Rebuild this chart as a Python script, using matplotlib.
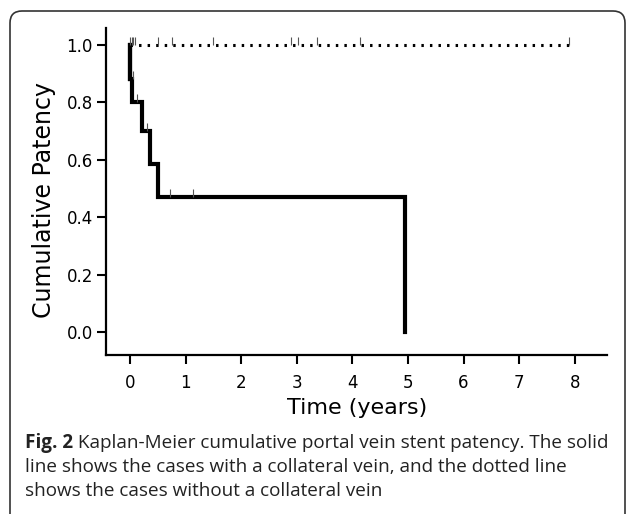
import matplotlib
matplotlib.use("Agg")
import matplotlib.pyplot as plt
from matplotlib.patches import FancyBboxPatch
from matplotlib.transforms import IdentityTransform

# with collateral vein (solid line): drop times and survival after the drop
solid_t = [0.0, 0.03, 0.21, 0.37, 0.51, 4.95]
solid_s = [0.88, 0.80, 0.70, 0.585, 0.47, 0.0]
solid_cens_t = [0.05, 0.12, 0.30, 0.72, 1.14]
solid_cens_s = [0.88, 0.80, 0.70, 0.47, 0.47]

# without collateral vein (dotted line): no events
dotted_end = 7.90
dotted_cens_t = [0.01, 0.04, 0.06, 0.09, 0.51, 0.75, 1.50, 2.89, 3.03, 3.36, 4.14, 7.90]

xticks = [0, 1, 2, 3, 4, 5, 6, 7, 8]
yticks = [0.0, 0.2, 0.4, 0.6, 0.8, 1.0]

caption_bold = "Fig. 2"
caption_lines = [" Kaplan-Meier cumulative portal vein stent patency. The solid",
                 "line shows the cases with a collateral vein, and the dotted line",
                 "shows the cases without a collateral vein"]

W, H = 627, 514
fig = plt.figure(figsize=(W / 100, H / 100), dpi=100)
ax = fig.add_axes([106 / W, 1 - 355 / H, 501 / W, 327 / H])

# curves
ax.step([0.0] + solid_t, [1.0] + solid_s, where="post", color="black", lw=3,
        solid_joinstyle="miter")
ax.plot([0.0, dotted_end], [1.0, 1.0], color="black", lw=2.2,
        dashes=(0.8, 2.0), dash_capstyle="butt")
ax.plot([0.0, 0.0], [1.0, solid_s[0]], color="black", lw=3)

# censor marks
ax.plot(solid_cens_t, solid_cens_s, ls="none", marker=2, ms=6, mew=0.8, color="#555555")
ax.plot(dotted_cens_t, [1.0] * len(dotted_cens_t), ls="none", marker=2, ms=6, mew=0.8,
        color="#555555")

ax.set_xlim(-0.43, 8.58)
ax.set_ylim(-0.08, 1.059)
ax.set_xticks(xticks)
ax.set_yticks(yticks)
ax.set_yticklabels(["%.1f" % v for v in yticks])
for s in ["top", "right"]:
    ax.spines[s].set_visible(False)
for s in ["left", "bottom"]:
    ax.spines[s].set_linewidth(1.6)
ax.tick_params(axis="both", direction="out", length=6.5, width=1.5, labelsize=12)
ax.tick_params(axis="y", pad=3)
ax.tick_params(axis="x", pad=7)

ax.set_ylabel("Cumulative Patency", fontsize=17)
ax.yaxis.label.set_va("center")
ax.yaxis.set_label_coords(-0.124, 0.474)
ax.set_xlabel("Time (years)", fontsize=16)
ax.xaxis.label.set_va("center")
ax.xaxis.set_label_coords(0.502, -0.162)

# border box (bottom runs off the image)
box = FancyBboxPatch((10, -30), 615, H - 11 + 30,
                     boxstyle="round,pad=0,rounding_size=12",
                     transform=IdentityTransform(), fill=False,
                     edgecolor="#333333", lw=1.2)
fig.patches.append(box)

# caption
cap_font = "Open Sans"
cap_size = 13.6
t0 = fig.text(25 / W, 1 - 448 / H, caption_bold, fontsize=cap_size, family=cap_font,
              fontweight="bold", color="#222222", va="baseline")
r = fig.canvas.get_renderer()
bb = t0.get_window_extent(renderer=r)
fig.text(bb.x1 / W, 1 - 448 / H, caption_lines[0], fontsize=cap_size, family=cap_font,
         color="#222222", va="baseline")
fig.text(25 / W, 1 - 472 / H, caption_lines[1], fontsize=cap_size, family=cap_font,
         color="#222222", va="baseline")
fig.text(25 / W, 1 - 496.5 / H, caption_lines[2], fontsize=cap_size, family=cap_font,
         color="#222222", va="baseline")

fig.savefig("out.png", dpi=100)
